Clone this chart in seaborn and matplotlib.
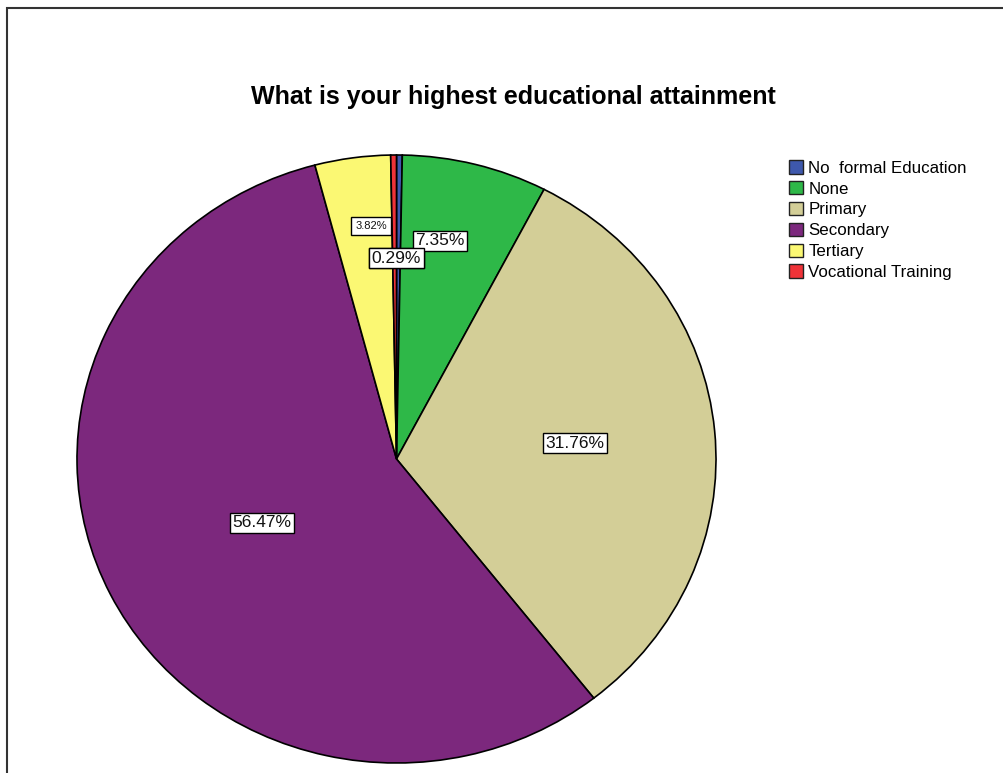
import matplotlib
matplotlib.use("Agg")
import matplotlib.pyplot as plt
from matplotlib.patches import Rectangle
import numpy as np
import seaborn as sns

# Survey responses: highest educational attainment (percent of respondents)
categories = ["No  formal Education", "None", "Primary", "Secondary",
              "Tertiary", "Vocational Training"]
percentages = [0.29, 7.35, 31.76, 56.47, 3.82, 0.29]
label_texts = ["0.29%", "7.35%", "31.76%", "56.47%", "3.82%", "0.29%"]

sns.set_theme(style="white")
plt.rcParams["font.family"] = ["Liberation Sans", "DejaVu Sans"]
plt.rcParams["text.color"] = "black"

palette = sns.color_palette(["#3E58AC", "#2EB848", "#D3CE97",
                             "#7C287D", "#FBF873", "#EF3338"])

W, H = 1004, 773
fig = plt.figure(figsize=(W / 100, H / 100), dpi=100)
fig.patch.set_facecolor("white")

# Pie occupies a (slightly elliptical) box on the left
left, right, top, bottom = 77, 716, 155, 763
ax = fig.add_axes([left / W, 1 - bottom / H, (right - left) / W, (bottom - top) / H])

wedges, _ = ax.pie(percentages, colors=palette, startangle=90, counterclock=False,
                   wedgeprops=dict(edgecolor="black", linewidth=1.2))
ax.set_aspect("auto")
ax.set_xlim(-1, 1)
ax.set_ylim(-1, 1)
ax.axis("off")

# Percentage labels placed along each wedge's mid angle; the two hairline
# wedges at twelve o'clock share their common edge as the label direction
label_radius = [0.66, 0.73, 0.56, 0.47, 0.77, 0.66]
label_shift = [0, 3.5, 0, 0, -2.0, 0]   # degrees, nudges labels toward the top
label_size = [12.5, 12.5, 12.5, 12.5, 8, 12.5]
label_pad = [0.15, 0.15, 0.15, 0.15, 0.35, 0.15]
n = len(wedges)
for i, w in enumerate(wedges):
    mid_deg = (w.theta1 + w.theta2) / 2 + label_shift[i]
    if i in (0, n - 1):
        mid_deg = 90 - 0.5 * 360 * (percentages[0] - percentages[-1]) / sum(percentages)
    mid = np.deg2rad(mid_deg)
    r = label_radius[i]
    ax.text(r * np.cos(mid), r * np.sin(mid), label_texts[i],
            ha="center", va="center", fontsize=label_size[i], color="#111111",
            bbox=dict(boxstyle=f"square,pad={label_pad[i]}", facecolor="white",
                      edgecolor="black", linewidth=1.0), zorder=5 + i)

fig.text(513 / W, 1 - 97 / H, "What is your highest educational attainment",
         ha="center", va="center", fontsize=18, fontweight="bold", color="black")

leg = fig.legend(wedges, categories, loc="upper left",
                 bbox_to_anchor=(789 / W, 1 - 160 / H), frameon=False,
                 fontsize=12.2, handlelength=0.85, handleheight=0.85,
                 handletextpad=0.3, labelspacing=0.31, borderpad=0,
                 borderaxespad=0)
for t in leg.get_texts():
    t.set_color("black")
for h in leg.legend_handles:
    h.set_edgecolor("#222222")
    h.set_linewidth(1.0)

# Outer chart frame
fig.add_artist(Rectangle((7.5 / W, -0.2), 1.5, 1 - 7.5 / H + 0.2,
                         transform=fig.transFigure, fill=False,
                         edgecolor="#333333", linewidth=1.5))

fig.savefig("out.png", dpi=100)
